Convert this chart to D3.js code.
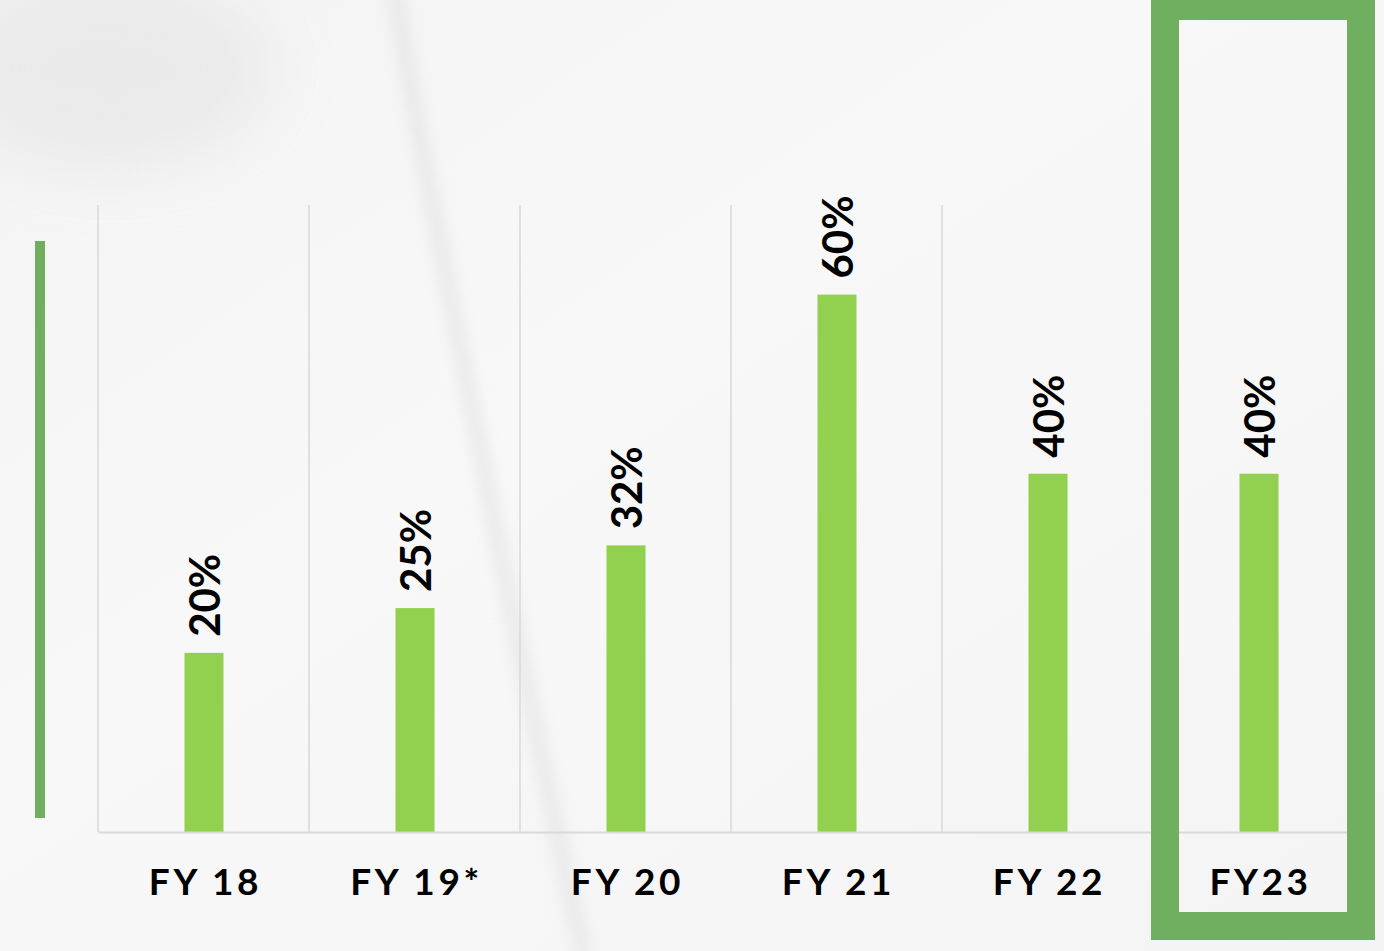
<!DOCTYPE html>
<html>
<head>
<meta charset="utf-8">
<script src="https://cdn.jsdelivr.net/npm/d3@7"></script>
<style>
html,body{margin:0;padding:0;background:#f7f7f7;overflow:hidden;}
svg{display:block;}
</style>
</head>
<body>
<svg id="chart" width="1384" height="951"></svg>
<script>
const categories = ["FY 18", "FY 19*", "FY 20", "FY 21", "FY 22", "FY23"];
const values = [20, 25, 32, 60, 40, 40];
const valueLabels = ["20%", "25%", "32%", "60%", "40%", "40%"];
const highlighted = ["FY23"];

const W = 1384, H = 951;
const svg = d3.select("#chart");
const defs = svg.append("defs");

// background
const bg = defs.append("linearGradient").attr("id","bg").attr("x1",0).attr("y1",0).attr("x2",1).attr("y2",1);
bg.append("stop").attr("offset","0%").attr("stop-color","#f3f3f3");
bg.append("stop").attr("offset","40%").attr("stop-color","#f8f8f8");
bg.append("stop").attr("offset","100%").attr("stop-color","#f4f4f4");
svg.append("rect").attr("width",W).attr("height",H).attr("fill","url(#bg)");

const blur = defs.append("filter").attr("id","blur").attr("x","-50%").attr("y","-50%").attr("width","200%").attr("height","200%");
blur.append("feGaussianBlur").attr("stdDeviation",8);
const blur2 = defs.append("filter").attr("id","blur2").attr("x","-50%").attr("y","-50%").attr("width","200%").attr("height","200%");
blur2.append("feGaussianBlur").attr("stdDeviation",30);

svg.append("ellipse").attr("cx",110).attr("cy",70).attr("rx",160).attr("ry",100)
  .attr("fill","#e6e6e6").attr("opacity",0.7).attr("filter","url(#blur2)");
svg.append("path").attr("d","M395,-10 C420,150 455,320 490,500 S560,850 585,960")
  .attr("fill","none").attr("stroke","#e0e0e0").attr("stroke-width",14)
  .attr("opacity",0.7).attr("filter","url(#blur)");

const x = d3.scaleBand().domain(categories).range([98, 1364]).paddingInner(0).paddingOuter(0);
const y = d3.scaleLinear().domain([0, 70]).range([832, 205]);

// left accent bar
svg.append("rect").attr("x",35).attr("y",241).attr("width",10).attr("height",577).attr("fill","#70ae60");

// vertical gridlines (category separators)
svg.append("g").selectAll("line").data(categories).join("line")
  .attr("x1", d => x(d)).attr("x2", d => x(d))
  .attr("y1", y(70)).attr("y2", y(0))
  .attr("stroke","#d9d9d9").attr("stroke-width",1.5);

// bars
const barW = 39;
svg.append("g").selectAll("rect").data(values).join("rect")
  .attr("x", (d,i) => x(categories[i]) + x.bandwidth()/2 - barW/2 + 0.5)
  .attr("y", d => y(d))
  .attr("width", barW)
  .attr("height", d => y(0) - y(d))
  .attr("fill","#92d050");

// baseline axis
const axis = svg.append("g").attr("transform",`translate(0,${y(0)})`)
  .call(d3.axisBottom(x).tickSize(0).tickPadding(0).tickFormat(""));
axis.select(".domain").attr("stroke","#d9d9d9").attr("stroke-width",2);

// category labels
svg.append("g").selectAll("text").data(categories).join("text")
  .attr("x", d => x(d) + x.bandwidth()/2 + 2)
  .attr("y", 895)
  .attr("text-anchor","middle")
  .attr("font-family","Lato, 'Open Sans', sans-serif")
  .attr("font-weight","bold")
  .attr("font-size",37)
  .attr("letter-spacing", 3.6)
  .attr("fill","#000")
  .text(d => d);

// value labels
svg.append("g").selectAll("text").data(values).join("text")
  .attr("transform",(d,i) => `translate(${x(categories[i]) + x.bandwidth()/2 + 1},${y(d) - 16}) rotate(-90)`)
  .attr("dy","0.36em")
  .attr("text-anchor","start")
  .attr("font-family","Lato, 'Open Sans', sans-serif")
  .attr("font-weight","bold")
  .attr("font-size",42)
  .attr("fill","#000")
  .text((d,i) => valueLabels[i]);

// highlight box
svg.append("g").selectAll("rect").data(highlighted).join("rect")
  .attr("x", d => x(d) + 12)
  .attr("y", 6)
  .attr("width", 196)
  .attr("height", 920)
  .attr("fill","none")
  .attr("stroke","#70ae60")
  .attr("stroke-width",28);
</script>
</body>
</html>
